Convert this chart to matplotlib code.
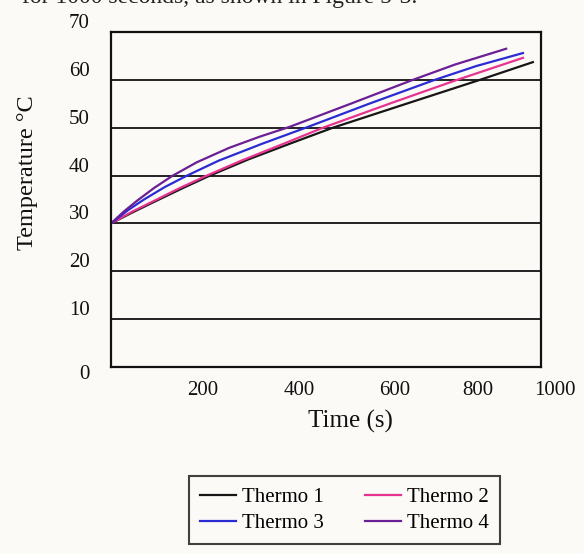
import matplotlib
matplotlib.use("Agg")
import matplotlib.pyplot as plt
from matplotlib.transforms import ScaledTranslation

plt.rcParams['font.family'] = ['Liberation Serif', 'DejaVu Serif']

# readings (time in s, temperature in deg C)
t1 = [0, 50, 107, 165, 230, 320, 420, 516, 690, 858, 981]
temp1 = [30, 32.3, 34.8, 37.3, 40.0, 43.4, 46.8, 50.0, 55.1, 60.0, 63.7]
t2 = [0, 50, 102, 160, 223, 300, 400, 493, 650, 805, 958]
temp2 = [30, 32.5, 34.8, 37.4, 40.0, 43.0, 46.6, 50.0, 55.1, 60.0, 64.6]
t3 = [0, 40, 75, 125, 177, 250, 350, 456, 600, 753, 850, 958]
temp3 = [30, 32.8, 34.9, 37.6, 40.0, 43.1, 46.6, 50.1, 55.0, 60.0, 62.9, 65.6]
t4 = [0, 30, 60, 100, 142, 200, 275, 345, 416, 560, 702, 800, 919]
temp4 = [30, 32.5, 34.7, 37.4, 39.9, 42.8, 45.8, 48.1, 50.2, 55.1, 60.0, 63.2, 66.5]

names = ['Thermo 1', 'Thermo 2', 'Thermo 3', 'Thermo 4']
colors = ['#161616', '#e6338f', '#2b2bd4', '#6b1f95']

xticks = [200, 400, 600, 800, 1000]
yticks = [0, 10, 20, 30, 40, 50, 60, 70]

bg = '#fcfaf6'
fig = plt.figure(figsize=(5.84, 5.54), dpi=100, facecolor=bg)
ax = fig.add_axes([111/584, 1 - 367/554, 430/584, 335/554], facecolor=bg)

lines = []
for t, v, c, n in zip([t1, t2, t3, t4], [temp1, temp2, temp3, temp4], colors, names):
    ln, = ax.plot(t, v, color=c, lw=1.6, label=n, solid_joinstyle='round')
    lines.append(ln)

ax.set_xlim(0, 1000)
ax.set_ylim(0, 70)
ax.set_xticks(xticks)
ax.set_yticks(yticks)
ax.tick_params(length=0, labelsize=15, colors='#111')
ax.tick_params(axis='y', pad=13)
ax.tick_params(axis='x', pad=10)

for y in yticks[1:-1]:
    ax.axhline(y, color='#222', lw=1.4, zorder=0)
for s in ax.spines.values():
    s.set_linewidth(1.6)
    s.set_color('#111')

fig.canvas.draw()
# the scan has tick labels sitting off their lines
x_shift = [6, 16, 26, 23, 14]
for lab, dx in zip(ax.get_xticklabels(), x_shift):
    lab.set_transform(lab.get_transform() + ScaledTranslation(dx/100, 0, fig.dpi_scale_trans))
for lab, val in zip(ax.get_yticklabels(), yticks):
    dy = -5 if val == 0 else 11
    lab.set_transform(lab.get_transform() + ScaledTranslation(-3/100, dy/100, fig.dpi_scale_trans))

ax.set_xlabel('Time (s)', fontsize=18, color='#111')
ax.xaxis.set_label_coords(0.556, -0.128)
ax.set_ylabel('Temperature °C', fontsize=17.5, color='#111')
ax.yaxis.set_label_coords(-0.17, 0.58)

order = [0, 2, 1, 3]
leg = fig.legend([lines[i] for i in order], [names[i] for i in order],
                 ncol=2, loc='center', bbox_to_anchor=(0.59, 0.079),
                 fontsize=15, frameon=True, fancybox=False, handlelength=1.7,
                 handletextpad=0.3, columnspacing=2.0, labelspacing=0.3,
                 borderpad=0.55, borderaxespad=0)
leg.get_frame().set_edgecolor('#111')
leg.get_frame().set_linewidth(1.5)
leg.get_frame().set_facecolor(bg)

# cut-off line of body text from the page above the figure
fig.text(417/584, 1 - 3/554, 'for 1000 seconds, as shown in Figure 5-3.',
         ha='right', va='baseline', fontsize=17, color='#222')

fig.savefig('out.png', dpi=100, facecolor=bg)
